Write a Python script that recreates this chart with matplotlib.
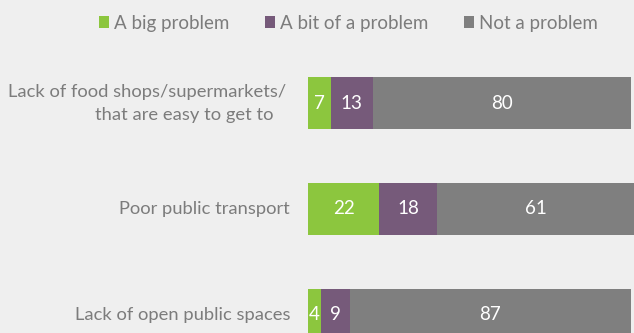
import matplotlib.pyplot as plt
from matplotlib.patches import Patch

categorias = ['Lack of food shops/supermarkets/\nthat are easy to get to',
              'Poor public transport',
              'Lack of open public spaces']
big_problem = [7, 22, 4]
bit_problem = [13, 18, 9]
not_problem = [80, 61, 87]
series = ['A big problem', 'A bit of a problem', 'Not a problem']
colores = ['#8cc63e', '#765a7a', '#7f7f7f']

plt.rcParams['font.family'] = ['Lato', 'DejaVu Sans']
fondo = '#efefef'
texto_gris = '#7c7c7c'

fig = plt.figure(figsize=(6.34, 3.33), dpi=100, facecolor=fondo)
ax = fig.add_axes([308 / 634, 0, 1 - 308 / 634, 1])
ax.set_facecolor(fondo)

y = list(range(len(categorias)))
izquierda = [0] * len(categorias)
for valores, color in zip([big_problem, bit_problem, not_problem], colores):
    ax.barh(y, valores, left=izquierda, height=0.49, color=color)
    for i, v in enumerate(valores):
        ax.text(izquierda[i] + v / 2, y[i], str(v), ha='center', va='center',
                color='white', fontsize=13.5)
    izquierda = [a + b for a, b in zip(izquierda, valores)]

ax.set_xlim(0, 101)
ax.set_ylim(2.17, -0.972)
ax.axis('off')

# etiquetas de las categorias a la izquierda de las barras
for i, cat in enumerate(categorias):
    lineas = cat.split('\n')
    if len(lineas) == 1:
        ax.text(-5.5, y[i], cat, ha='right', va='center', color=texto_gris,
                fontsize=13.2, clip_on=False)
    else:
        # la segunda linea queda algo corrida hacia la izquierda
        ax.text(-6.7, y[i] - 0.1, lineas[0], ha='right', va='center',
                color=texto_gris, fontsize=13.2, clip_on=False)
        ax.text(-10.8, y[i] + 0.11, lineas[1], ha='right', va='center',
                color=texto_gris, fontsize=13.2, clip_on=False)

manejadores = [Patch(facecolor=c, edgecolor='none') for c in colores]
fig.legend(manejadores, series, loc='center', bbox_to_anchor=(348 / 634, 1 - 23 / 333),
           ncol=3, frameon=False, handlelength=0.55, handleheight=0.55,
           handletextpad=0.25, columnspacing=1.9, fontsize=13.5,
           labelcolor=texto_gris, borderpad=0)

fig.savefig('out.png', dpi=100, facecolor=fondo)
